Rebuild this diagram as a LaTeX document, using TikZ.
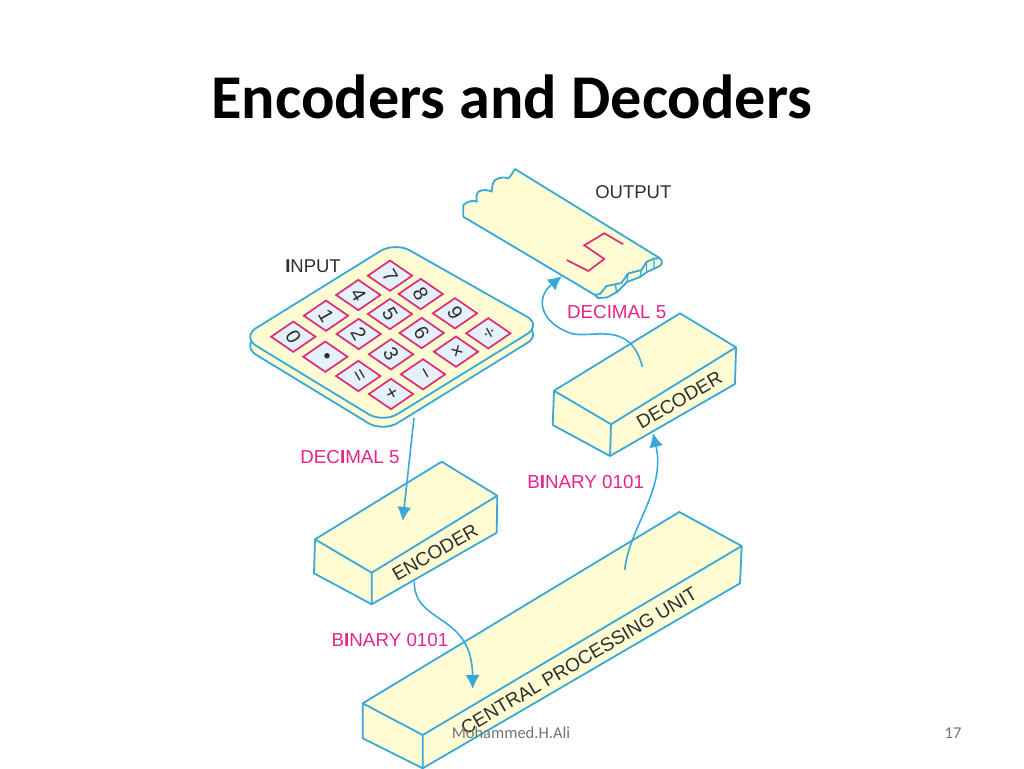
\documentclass[tikz,border=0pt]{standalone}
\usepackage{fontspec}
\setmainfont{Liberation Sans}
\newfontfamily\slidefont{Carlito}
\usetikzlibrary{arrows.meta,shapes.geometric}
\definecolor{cream}{HTML}{FFFBD2}
\definecolor{wireblue}{HTML}{38A8DC}
\definecolor{labelpink}{HTML}{E5248A}
\definecolor{keypink}{HTML}{DC2C74}
\definecolor{keyblue}{HTML}{E4F0FA}
\definecolor{inkgrey}{HTML}{2E2E2E}
\tikzset{
  outline/.style={draw=wireblue,fill=cream,line width=1.8pt,line join=round},
  wire/.style={draw=wireblue,line width=1.6pt,-{Latex[length=14pt,width=14pt]}},
  keycap/.style={diamond,draw=keypink,fill=keyblue,line width=1.7pt,inner sep=0pt,minimum width=45pt,minimum height=31pt},
  keylabel/.style={text=inkgrey,font=\fontsize{20}{20}\selectfont,inner sep=0pt},
  unitlabel/.style={text=inkgrey,font=\fontsize{19}{19}\selectfont,inner sep=0pt},
  pinklabel/.style={text=labelpink,font=\fontsize{18.8}{18.8}\selectfont,inner sep=0pt},
  footer/.style={text=black!55,font=\slidefont\fontsize{16.5}{16.5}\selectfont,inner sep=0pt},
}
\begin{document}
\begin{tikzpicture}[x=1pt,y=-1pt]
\useasboundingbox (0,0) rectangle (1024,768);
\node[font=\slidefont\bfseries\fontsize{62.3}{62.3}\selectfont,inner sep=0pt] (title) at (512,97) {Encoders and Decoders};
% output strip
\draw[outline] (463.3,216.7) -- (463.3,205) .. controls (468,201) and (473,200) .. (476.7,201.7) .. controls (476,196) and (477,193) .. (478.3,191.7) .. controls (483,189) and (488,190) .. (491.7,191.7) .. controls (492,186) and (493,182) .. (495,180) .. controls (500,177) and (504,177) .. (508.3,178.3) .. controls (511,176) and (513,172) .. (515,169) -- (660,258.3)
  .. controls (663,262) and (662,265) .. (660,266) -- (647,272) -- (640,277) -- (627,282) -- (617,292) -- (607,297.5) -- (598,298) -- (595,295) -- cycle;
\draw[outline] (660,258.3) -- (654,258.5) -- (646.5,262) -- (641.5,270) -- (628,273.5) -- (621.5,283) -- (606.5,286) -- (600,294) -- (595,295);
\draw[wireblue,line width=1.4pt] (646.5,262) -- (646.5,272) (654,258.5) -- (654,268.5) (641.5,270) -- (640,277) (628,273.5) -- (627,282) (615.5,285) -- (616.5,292);
\draw[keypink,line width=1.7pt] (623.3,244.3) -- (604.3,233.3) -- (584.3,245.3) -- (604.3,259) -- (588.3,271) -- (566.7,260);
\node[text=inkgrey,font=\fontsize{18.5}{18.5}\selectfont,inner sep=0pt] (outputlabel) at (633.3,191.7) {OUTPUT};
% keypad
\draw[outline,rounded corners=17pt] (241.7,346) -- (395,251) -- (541.7,334) -- (383,432) -- cycle;
\draw[outline,rounded corners=17pt] (241.7,337) -- (395,242) -- (541.7,325) -- (383,423) -- cycle;
\foreach \px/\py/\id/\lab in {390/275.7/seven/7,420.7/294/eight/8,455/313.3/nine/9,488.3/333.3/div/÷,
  358.3/295/four/4,390/314/five/5,421.7/333/six/6,456/351.7/times/×,
  326/315.7/one/1,358.7/334/two/2,391/354.3/three/3,423/374.3/minus/−,
  293.3/336.7/zero/0,325.3/356.7/dot/•,358.3/376/equal/=,391/394/plus/+}
{
  \node[keycap] (key\id) at (\px,\py) {};
  \node[keylabel,rotate=-60] (lab\id) at (key\id) {\lab};
}
\node[text=inkgrey,font=\fontsize{18.5}{18.5}\selectfont,inner sep=0pt] (inputlabel) at (313,266.7) {\textbf{I}NPUT};
% decoder
\draw[outline] (554,390.7) -- (680,313.3) -- (736,347.3) -- (735,384) -- (610,456) -- (552.7,425) -- cycle;
\draw[outline,fill=none] (554,390.7) -- (611,424.3) -- (736,347.3) (611,424.3) -- (610,456);
\node[unitlabel,rotate=30] (decoderlabel) at (679.3,400) {DECODER};
% encoder
\draw[outline] (315,539.3) -- (441.7,461.7) -- (497.3,495.7) -- (496.7,532.7) -- (371.7,604.3) -- (314,573.3) -- cycle;
\draw[outline,fill=none] (315,539.3) -- (371.7,572.7) -- (497.3,495.7) (371.7,572.7) -- (371.7,604.3);
\node[unitlabel,rotate=30] (encoderlabel) at (435,552.3) {ENCODER};
% central processing unit
\draw[outline] (362.7,703.3) -- (679.3,512) -- (741.7,546) -- (740,583.3) -- (422.7,768.3) -- (362.7,738.3) -- cycle;
\draw[outline,fill=none] (362.7,703.3) -- (422.7,735) -- (741.7,546) (422.7,735) -- (422.7,768.3);
\node[unitlabel,rotate=30.5] (cpulabel) at (579,661) {CENTRAL PROCESSING UNIT};
% signal labels
\node[pinklabel] (decimaltop) at (616.7,312.3) {DECIMAL 5};
\node[pinklabel] (decimalleft) at (350,456.7) {DEC\textbf{I}MAL 5};
\node[pinklabel] (binaryright) at (585.7,481.7) {B\textbf{I}NARY 0101};
\node[pinklabel] (binaryleft) at (390,640) {B\textbf{I}NARY 0101};
% ends of the connectors
\coordinate (keypadout) at (414,418);
\coordinate (encoderin) at (402.7,521);
\coordinate (encoderout) at (414.3,581.7);
\coordinate (cpuin) at (472.7,689);
\coordinate (cpuout) at (624.7,570);
\coordinate (decoderin) at (653,433);
\coordinate (decoderout) at (642.3,366.7);
\coordinate (outputin) at (562,276);
\draw[wire] (keypadout) -- (encoderin);
\draw[wire] (encoderout) .. controls (414,625) and (472,612) .. (cpuin);
\draw[wire] (cpuout) .. controls (630,525) and (666,490) .. (decoderin);
\draw[wire] (decoderout) .. controls (630,318) and (590,340) .. (570,333) .. controls (540,322) and (535,298) .. (outputin);
% footer
\node[footer] (author) at (511,733) {Mohammed.H.Ali};
\node[footer] (pagenum) at (953,733) {17};
\end{tikzpicture}
\end{document}
